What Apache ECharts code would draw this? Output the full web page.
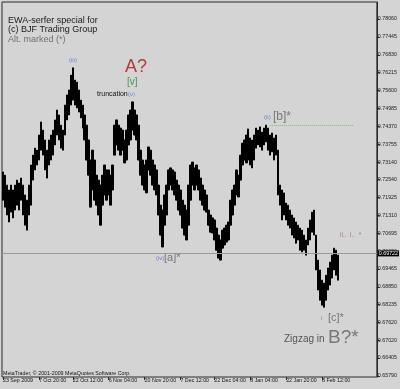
<!DOCTYPE html>
<html><head><meta charset="utf-8">
<script src="https://cdn.jsdelivr.net/npm/echarts@6/dist/echarts.min.js"></script>
<style>html,body{margin:0;padding:0;background:#d4d4d4}#c{width:400px;height:389px}</style>
</head><body><div id="c"></div>
<script>
// price axis tick labels (as printed by MetaTrader)
const tickLabels = ['0.78060','0.77445','0.76830','0.76215','0.75600','0.74985','0.74370','0.73755','0.73140','0.72540','0.71925','0.71310','0.70695','0.70080','0.69465','0.68850','0.68235','0.67620','0.67020','0.66405','0.65790'];
// time axis labels and the bar column where each starts
const dateLabels = ['23 Sep 2009','7 Oct 20:00','22 Oct 12:00','6 Nov 04:00','20 Nov 20:00','7 Dec 12:00','22 Dec 04:00','8 Jan 04:00','22 Jan 20:00','8 Feb 12:00'];
const dateLabelIdx = [0,18,35,53,71,89,106,124,142,160];
const totalColumns = 188;
// high / low of each bar column
const highs = [0.7280,0.7269,0.7235,0.7218,0.7235,0.7218,0.7235,0.7252,0.7242,0.7259,
0.7235,0.7201,0.7183,0.7235,0.7304,0.7338,0.7362,0.7355,0.7407,0.7452,
0.7424,0.7390,0.7355,0.7390,0.7407,0.7424,0.7459,0.7493,0.7476,0.7441,
0.7424,0.7510,0.7545,0.7562,0.7613,0.7638,0.7596,0.7589,0.7562,0.7527,
0.7510,0.7476,0.7441,0.7390,0.7321,0.7355,0.7321,0.7269,0.7252,0.7235,
0.7269,0.7304,0.7287,0.7287,0.7269,0.7304,0.7441,0.7459,0.7441,0.7431,
0.7424,0.7390,0.7424,0.7476,0.7493,0.7521,0.7493,0.7476,0.7441,0.7355,
0.7321,0.7304,0.7321,0.7366,0.7355,0.7321,0.7304,0.7287,0.7235,0.7166,
0.7149,0.7201,0.7235,0.7287,0.7294,0.7287,0.7280,0.7252,0.7235,0.7218,
0.7183,0.7166,0.7149,0.7235,0.7304,0.7314,0.7294,0.7304,0.7287,0.7259,
0.7235,0.7218,0.7201,0.7149,0.7132,0.7122,0.7115,0.7087,0.7063,0.7046,
0.7080,0.7087,0.7097,0.7108,0.7183,0.7218,0.7235,0.7287,0.7269,0.7338,
0.7379,0.7390,0.7407,0.7428,0.7397,0.7390,0.7407,0.7431,0.7424,0.7435,
0.7417,0.7431,0.7441,0.7431,0.7407,0.7414,0.7397,0.7407,0.7355,0.7235,
0.7218,0.7208,0.7173,0.7166,0.7149,0.7132,0.7122,0.7108,0.7097,0.7087,
0.7080,0.7063,0.7046,0.7087,0.7115,0.7142,0.7149,0.7063,0.6977,0.6943,
0.6908,0.6898,0.6925,0.6950,0.6970,0.6994,0.7018,0.7011,0.6994];
const lows = [0.7183,0.7159,0.7132,0.7108,0.7142,0.7122,0.7149,0.7166,0.7149,0.7183,
0.7132,0.7097,0.7080,0.7132,0.7166,0.7252,0.7287,0.7304,0.7321,0.7355,
0.7338,0.7287,0.7259,0.7304,0.7321,0.7338,0.7373,0.7407,0.7390,0.7362,
0.7355,0.7407,0.7459,0.7476,0.7510,0.7527,0.7510,0.7500,0.7486,0.7466,
0.7431,0.7390,0.7321,0.7269,0.7159,0.7218,0.7183,0.7166,0.7132,0.7097,
0.7166,0.7201,0.7183,0.7201,0.7166,0.7218,0.7338,0.7373,0.7355,0.7338,
0.7355,0.7311,0.7321,0.7373,0.7390,0.7424,0.7407,0.7390,0.7321,0.7269,
0.7235,0.7218,0.7208,0.7287,0.7269,0.7235,0.7218,0.7201,0.7132,0.7063,
0.7022,0.7097,0.7132,0.7218,0.7235,0.7218,0.7201,0.7183,0.7149,0.7132,
0.7087,0.7063,0.7046,0.7097,0.7183,0.7235,0.7218,0.7235,0.7218,0.7183,
0.7166,0.7149,0.7142,0.7097,0.7073,0.7070,0.7046,0.7011,0.6984,0.6977,
0.7018,0.7029,0.7039,0.7046,0.7097,0.7132,0.7166,0.7201,0.7194,0.7252,
0.7304,0.7321,0.7311,0.7321,0.7304,0.7294,0.7321,0.7362,0.7373,0.7366,
0.7355,0.7373,0.7383,0.7355,0.7338,0.7349,0.7321,0.7338,0.7201,0.7166,
0.7115,0.7132,0.7115,0.7097,0.7087,0.7063,0.7053,0.7035,0.7046,0.7011,
0.7005,0.7011,0.6994,0.7029,0.7046,0.7073,0.7063,0.6943,0.6874,0.6839,
0.6822,0.6815,0.6839,0.6874,0.6891,0.6915,0.6943,0.6925,0.6908];
const currentPrice = 0.69722;
const bLevel = 0.7441;          // dotted level from the [b] high
const bLevelFrom = 134, bLevelTo = 176;
const yMin = 0.6575, yMax = 0.78645;

const categories = [];
for (let i = 0; i < totalColumns; i++) categories.push('');
dateLabelIdx.forEach((idx, k) => { categories[idx] = dateLabels[k]; });
const ohlc = highs.map((h, i) => [lows[i], h, lows[i], h]);
const tickVals = tickLabels.map(Number);
const showCat = (i, v) => v !== '';

const FONT = 'Liberation Sans, Arial, sans-serif';
function txt(x, y, s, size, color, extra) {
  return Object.assign({type: 'text', x: x, y: y, silent: true,
    style: Object.assign({text: s, fill: color, font: size + 'px ' + FONT, textVerticalAlign: 'middle'}, extra || {})});
}

const chart = echarts.init(document.getElementById('c'), null, {renderer: 'canvas'});
chart.setOption({
  animation: false,
  backgroundColor: '#d4d4d4',
  grid: {left: 1, right: 23, top: 2, bottom: 12, show: true, borderColor: '#2a2a2a', borderWidth: 1, backgroundColor: 'transparent'},
  xAxis: {
    type: 'category', data: categories, boundaryGap: true,
    axisLine: {show: false},
    axisTick: {show: true, alignWithLabel: true, interval: showCat, length: 3, lineStyle: {color: '#2a2a2a'}},
    axisLabel: {interval: showCat, align: 'left', fontSize: 5.3, fontFamily: FONT, color: '#111', margin: 1}
  },
  yAxis: {
    type: 'value', position: 'right', min: yMin, max: yMax, scale: true,
    splitLine: {show: false},
    axisLine: {show: true, lineStyle: {color: '#2a2a2a'}},
    axisTick: {show: true, length: 3, customValues: tickVals, lineStyle: {color: '#2a2a2a'}},
    axisLabel: {customValues: tickVals, formatter: v => v.toFixed(5), fontSize: 5.3, fontFamily: FONT, color: '#222', margin: 1}
  },
  series: [{
    type: 'candlestick', data: ohlc, barWidth: 2, large: false,
    itemStyle: {color: '#000', color0: '#000', borderColor: '#000', borderColor0: '#000', borderWidth: 1},
    markLine: {
      silent: true, symbol: 'none', animation: false,
      data: [
        {yAxis: currentPrice, lineStyle: {color: '#9a9a9a', type: 'solid', width: 1},
          label: {show: true, position: 'end', distance: 1, formatter: '0.69722', color: '#fff', backgroundColor: '#000', fontSize: 5.3, fontFamily: FONT, padding: [1, 1, 0, 1]}},
        [{coord: [bLevelFrom, bLevel], lineStyle: {color: '#7dbb7d', type: 'dotted', width: 1}, label: {show: false}},
         {coord: [bLevelTo, bLevel]}]
      ]
    }
  }],
  graphic: [
    txt(8, 21, 'EWA-serfer special for', 9, '#1a1a1a'),
    txt(8, 30, '(c) BJF Trading Group', 9, '#1a1a1a'),
    txt(8, 39.5, 'Alt. marked (*)', 9, '#707070'),
    txt(69, 60, '(iii)', 6, '#6f7fc8'),
    txt(125, 67, 'A?', 18, '#b23a3a'),
    txt(127, 82, '[v]', 10, '#3e9a5c'),
    txt(97, 94.5, 'truncation', 7, '#111'),
    txt(128, 94.5, '(v)', 6, '#6f7fc8'),
    txt(156, 258, '(iv)', 6, '#6f7fc8'),
    txt(164, 258, '[a]*', 11, '#777'),
    txt(264, 117, '(ii)', 6, '#6f7fc8'),
    txt(273, 117, '[b]*', 12, '#777'),
    txt(340, 235, 'ii..  i..  *', 6.5, '#c07070'),
    txt(321, 318, 'i', 6, '#888'),
    txt(328, 318, '[c]*', 11, '#777'),
    txt(284, 339, 'Zigzag in', 10, '#555'),
    txt(328, 338, 'B?*', 19, '#777'),
    txt(3, 374, 'MetaTrader, \u00a9 2001-2009 MetaQuotes Software Corp.', 5.3, '#111')
  ]
});
</script></body></html>
